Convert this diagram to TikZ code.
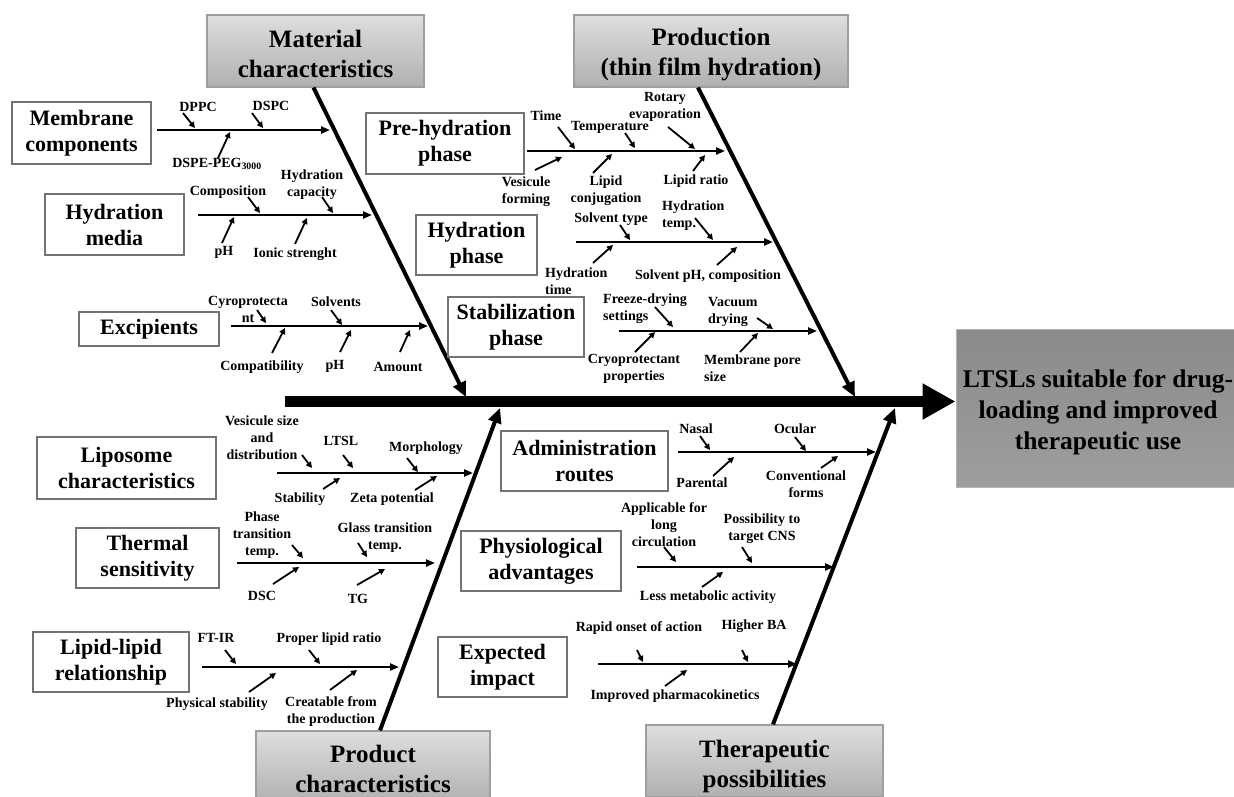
\documentclass[tikz,border=0pt]{standalone}
\usepackage{fontspec}
\setmainfont{Liberation Serif}
\usetikzlibrary{arrows.meta}
\begin{document}
\begin{tikzpicture}[x=1pt,y=-1pt,
 hdrbox/.style={draw=black!38, line width=1.2pt, top color=black!13, bottom color=black!31, inner sep=0pt},
 goalbox/.style={draw=black!30, line width=1pt, top color=black!46, bottom color=black!38, inner sep=0pt},
 hdr/.style={inner sep=0pt, align=center, font=\fontsize{25}{30}\selectfont\bfseries},
 goal/.style={inner sep=0pt, align=center, font=\fontsize{25.5}{31}\selectfont\bfseries},
 cat/.style={draw=black!55, line width=1.2pt, fill=white, inner sep=0pt, align=center, font=\fontsize{22}{26}\selectfont\bfseries},
 lab/.style={inner sep=0pt, align=center, font=\fontsize{14}{17}\selectfont\bfseries},
 labl/.style={lab, align=left, anchor=west},
 spine/.style={line width=11pt, -{Triangle[length=33pt,width=34pt]}},
 bone/.style={line width=4pt, -{Triangle[length=15pt,width=13pt]}},
 sub/.style={line width=2.2pt, -{Triangle[length=9pt,width=7pt]}},
 sarr/.style={line width=1.8pt, -{Triangle[length=6pt,width=6pt]}},
]
\useasboundingbox (0,0) rectangle (1234,796);

% header boxes
\node[hdrbox, minimum width=217pt, minimum height=72pt] (matbox) at (315.5,51) {};
\node[hdr] (mat) at (315.5,54) {Material\\characteristics};
\node[hdrbox, minimum width=274pt, minimum height=72pt] (prodbox) at (711,51) {};
\node[hdr] (prod) at (711,55) {Production\\(thin film hydration)};
\node[hdrbox, minimum width=234pt, minimum height=72pt] (pcbox) at (373,767) {};
\node[hdr] (pc) at (373,768.5) {Product\\characteristics};
\node[hdrbox, minimum width=237pt, minimum height=72pt] (tpbox) at (764.5,761) {};
\node[hdr] (tp) at (764.5,766) {Therapeutic\\possibilities};
\node[goalbox, minimum width=284pt, minimum height=158pt] (gbox) at (1098,408) {};
\node[goal] (goal) at (1098,412) {LTSLs suitable for drug-\\loading and improved\\therapeutic use};

% spine
\coordinate (spS) at (285,401.5);
\draw[spine] (spS) -- (spS -| gbox.west);

% main bones
\coordinate (matT) at (466,397);
\coordinate (prodT) at (855,397);
\coordinate (pcT) at (500,408);
\coordinate (tpT) at (895,408);
\draw[bone] ([xshift=-2pt]matbox.south) -- (matT);
\draw[bone] ([xshift=-13pt]prodbox.south) -- (prodT);
\draw[bone] ([xshift=7pt]pcbox.north) -- (pcT);
\draw[bone] ([xshift=8.5pt]tpbox.north) -- (tpT);

% category boxes
\node[cat, minimum width=139pt, minimum height=62pt] (mem) at (81.5,133) {Membrane\\components};
\node[cat, minimum width=139pt, minimum height=61pt] (hmed) at (114.5,224.5) {Hydration\\media};
\node[cat, minimum width=140pt, minimum height=34pt] (exc) at (149,329) {Excipients};
\node[cat, minimum width=158pt, minimum height=61pt] (preh) at (445,143.5) {Pre-hydration\\phase};
\node[cat, minimum width=121pt, minimum height=60pt] (hph) at (476.5,245) {Hydration\\phase};
\node[cat, minimum width=136pt, minimum height=60pt] (stab) at (516,327) {Stabilization\\phase};
\node[cat, minimum width=179pt, minimum height=62pt] (lipo) at (126.5,468) {Liposome\\characteristics};
\node[cat, minimum width=143pt, minimum height=60pt] (therm) at (147.5,558) {Thermal\\sensitivity};
\node[cat, minimum width=156pt, minimum height=60pt] (lipid) at (111,662) {Lipid-lipid\\relationship};
\node[cat, minimum width=167pt, minimum height=60pt] (admin) at (584.5,461) {Administration\\routes};
\node[cat, minimum width=160pt, minimum height=60pt] (phys) at (541,561) {Physiological\\advantages};
\node[cat, minimum width=129pt, minimum height=60pt] (expi) at (502.5,667) {Expected\\impact};

% sub-bones
\foreach \n/\xa/\xb/\yy in {s1/157/330/130, s2/198/372/215, s3/231/428/326,
  s4/527/725/151, s5/576/773/242, s6/619/817/331,
  s7/277/473/473, s8/237/435/563, s9/202/399/667,
  s10/678/876/452, s11/637/834/567, s12/598/797/664}{
  \coordinate (\n a) at (\xa,\yy);
  \coordinate (\n b) at (\xb,\yy);
  \draw[sub] (\n a) -- (\n b);
}

% labels
\node[lab] (l1) at (198,107) {DPPC};
\node[lab] (l2) at (271,106) {DSPC};
\node[lab] (l3) at (217,164) {DSPE-PEG\textsubscript{3000}};
\node[lab] (l4) at (228,192) {Composition};
\node[lab] (l5) at (312,185) {Hydration\\capacity};
\node[lab] (l6) at (224,252) {pH};
\node[lab] (l7) at (295,254) {Ionic strenght};
\node[lab] (l8) at (248,309) {Cyroprotecta\\nt};
\node[lab] (l9) at (336,302) {Solvents};
\node[lab] (l10) at (262,367) {Compatibility};
\node[lab] (l11) at (335,366) {pH};
\node[lab] (l12) at (398,367) {Amount};

\node[lab] (p1) at (546,116) {Time};
\node[lab] (p2) at (610,127) {Temperature};
\node[lab] (p3) at (665,107) {Rotary\\evaporation};
\node[lab] (p4) at (526,192) {Vesicule\\forming};
\node[lab] (p5) at (606,191) {Lipid\\conjugation};
\node[lab] (p6) at (696,181) {Lipid ratio};
\node[lab] (p7) at (611,219) {Solvent type};
\node[labl] (p8) at (662,215.5) {Hydration\\temp.};
\node[labl] (p9) at (545,281) {Hydration\\time};
\node[lab] (p10) at (708,276) {Solvent pH, composition};
\node[labl] (p11) at (603,309) {Freeze-drying\\settings};
\node[labl] (p12) at (708,312) {Vacuum\\drying};
\node[lab] (p13) at (634,369) {Cryoprotectant\\properties};
\node[labl] (p14) at (704,368) {Membrane pore\\size};

\node[lab] (c1) at (262,438) {Vesicule size\\and\\distribution};
\node[lab] (c2) at (341,441) {LTSL};
\node[lab] (c3) at (426,448) {Morphology};
\node[lab] (c4) at (300,499) {Stability};
\node[lab] (c5) at (392,499) {Zeta potential};
\node[lab] (c6) at (262,535) {Phase\\transition\\temp.};
\node[lab] (c7) at (385,538) {Glass transition\\temp.};
\node[lab] (c8) at (262,596) {DSC};
\node[lab] (c9) at (358,599) {TG};
\node[lab] (c10) at (216,638) {FT-IR};
\node[lab] (c11) at (329,639) {Proper lipid ratio};
\node[lab] (c12) at (217,704) {Physical stability};
\node[lab] (c13) at (331,712) {Creatable from\\the production};

\node[lab] (t1) at (696,429) {Nasal};
\node[lab] (t2) at (795,429) {Ocular};
\node[lab] (t3) at (702,483) {Parental};
\node[lab] (t4) at (806,484) {Conventional\\forms};
\node[lab] (t5) at (664,525) {Applicable for\\long\\circulation};
\node[lab] (t6) at (762,529) {Possibility to\\target CNS};
\node[lab] (t7) at (708,597) {Less metabolic activity};
\node[lab] (t8) at (639,628) {Rapid onset of action};
\node[lab] (t9) at (754,626) {Higher BA};
\node[lab] (t10) at (675,696) {Improved pharmacokinetics};

% small arrows
\foreach \xa/\ya/\xb/\yb in {
 183/113/195/128, 252/113/263/128, 218/158/230/132, 248/197/260/213,
 322/197/333/213, 222/243/234/217, 295/244/307/218, 257/310/266/323,
 331/310/342/325, 272/353/285/328, 340/352/351/330, 400/352/410/330,
 558/127/575/149, 625/133/635/148, 668/127/695/149, 535/170/562/157,
 593/173/612/154, 693/171/705/155, 620/225/630/240, 695/218/713/240,
 593/263/613/245, 717/265/737/247, 655/307/673/327, 757/318/773/329,
 635/352/655/332, 740/352/758/333,
 302/455/312/468, 343/455/353/468, 407/458/418/472, 323/489/340/478,
 415/490/437/476, 292/545/303/558, 358/543/367/557, 273/584/299/567,
 357/585/385/569, 225/650/236/664, 309/650/320/664, 249/692/276/673,
 330/690/357/670,
 700/436/710/450, 795/437/806/451, 713/476/734/457, 821/468/838/456,
 664/547/676/562, 742/547/752/563, 702/587/723/572, 637/650/643/662,
 742/650/748/662, 665/686/687/670}{
 \draw[sarr] (\xa,\ya) -- (\xb,\yb);
}
\end{tikzpicture}
\end{document}
